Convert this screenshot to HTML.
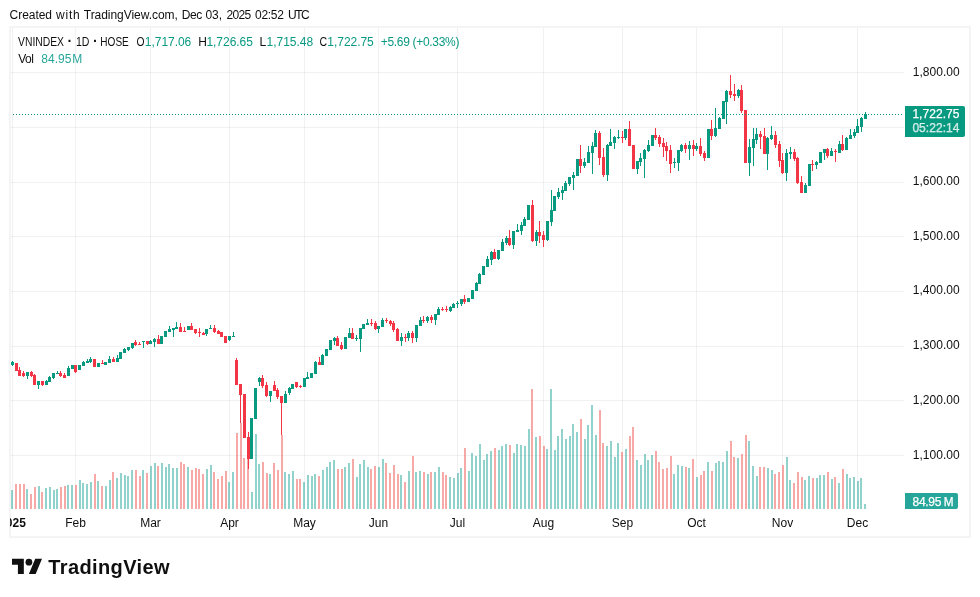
<!DOCTYPE html>
<html lang="en"><head><meta charset="utf-8"><title>VNINDEX 1D HOSE - TradingView</title>
<style>
html,body{margin:0;padding:0;background:#fff;}
body{width:980px;height:597px;overflow:hidden;position:relative;}
svg{position:absolute;left:0;top:0;display:block;}
text{font-family:"Liberation Sans", sans-serif;font-size:12px;fill:#0f0f0f;}
.g{fill:#089981}.r{fill:#f23645}.vg{fill:rgba(38,166,154,0.5)}.vr{fill:rgba(239,83,80,0.5)}
.up{fill:#089981}.vol{fill:#26a69a}.w{fill:#fff;stroke:#fff;stroke-width:0.25px}
</style></head><body>
<svg width="980" height="597" viewBox="0 0 980 597">
<g shape-rendering="crispEdges">
<rect x="10" y="27" width="960" height="510" fill="none" stroke="#f4f4f4" stroke-width="2"/>
<g fill="rgba(0,0,0,0.055)">
<rect x="12" y="28" width="1" height="481"/>
<rect x="75" y="28" width="1" height="481"/>
<rect x="150" y="28" width="1" height="481"/>
<rect x="229" y="28" width="1" height="481"/>
<rect x="304" y="28" width="1" height="481"/>
<rect x="378" y="28" width="1" height="481"/>
<rect x="457" y="28" width="1" height="481"/>
<rect x="543" y="28" width="1" height="481"/>
<rect x="622" y="28" width="1" height="481"/>
<rect x="696" y="28" width="1" height="481"/>
<rect x="782" y="28" width="1" height="481"/>
<rect x="857" y="28" width="1" height="481"/>
<rect x="11" y="72" width="893" height="1"/>
<rect x="11" y="127" width="893" height="1"/>
<rect x="11" y="182" width="893" height="1"/>
<rect x="11" y="236" width="893" height="1"/>
<rect x="11" y="291" width="893" height="1"/>
<rect x="11" y="346" width="893" height="1"/>
<rect x="11" y="400" width="893" height="1"/>
<rect x="11" y="455" width="893" height="1"/>
</g>
<g><rect class="vg" x="11" y="490" width="2" height="19"/><rect class="vr" x="15" y="484" width="2" height="25"/><rect class="vr" x="19" y="484" width="2" height="25"/><rect class="vr" x="23" y="484" width="2" height="25"/><rect class="vg" x="26" y="489" width="2" height="20"/><rect class="vr" x="30" y="494" width="2" height="15"/><rect class="vr" x="34" y="487" width="2" height="22"/><rect class="vg" x="38" y="486" width="2" height="23"/><rect class="vr" x="41" y="492" width="2" height="17"/><rect class="vg" x="45" y="488" width="2" height="21"/><rect class="vg" x="49" y="487" width="2" height="22"/><rect class="vg" x="53" y="490" width="2" height="19"/><rect class="vg" x="56" y="489" width="2" height="20"/><rect class="vr" x="60" y="487" width="2" height="22"/><rect class="vr" x="64" y="486" width="2" height="23"/><rect class="vg" x="67" y="485" width="2" height="24"/><rect class="vg" x="71" y="485" width="2" height="24"/><rect class="vr" x="75" y="485" width="2" height="24"/><rect class="vg" x="79" y="480" width="2" height="29"/><rect class="vg" x="82" y="483" width="2" height="26"/><rect class="vg" x="86" y="484" width="2" height="25"/><rect class="vg" x="90" y="482" width="2" height="27"/><rect class="vr" x="94" y="474" width="2" height="35"/><rect class="vg" x="97" y="481" width="2" height="28"/><rect class="vr" x="101" y="486" width="2" height="23"/><rect class="vg" x="105" y="486" width="2" height="23"/><rect class="vg" x="109" y="480" width="2" height="29"/><rect class="vr" x="112" y="472" width="2" height="37"/><rect class="vg" x="116" y="478" width="2" height="31"/><rect class="vg" x="120" y="473" width="2" height="36"/><rect class="vg" x="124" y="475" width="2" height="34"/><rect class="vg" x="127" y="476" width="2" height="33"/><rect class="vg" x="131" y="470" width="2" height="39"/><rect class="vr" x="135" y="470" width="2" height="39"/><rect class="vr" x="139" y="476" width="2" height="33"/><rect class="vg" x="142" y="470" width="2" height="39"/><rect class="vr" x="146" y="473" width="2" height="36"/><rect class="vg" x="150" y="466" width="2" height="43"/><rect class="vg" x="154" y="463" width="2" height="46"/><rect class="vr" x="157" y="466" width="2" height="43"/><rect class="vg" x="161" y="463" width="2" height="46"/><rect class="vg" x="165" y="467" width="2" height="42"/><rect class="vg" x="168" y="464" width="2" height="45"/><rect class="vg" x="172" y="468" width="2" height="41"/><rect class="vg" x="176" y="468" width="2" height="41"/><rect class="vr" x="180" y="462" width="2" height="47"/><rect class="vr" x="183" y="464" width="2" height="45"/><rect class="vg" x="187" y="467" width="2" height="42"/><rect class="vr" x="191" y="470" width="2" height="39"/><rect class="vr" x="195" y="468" width="2" height="41"/><rect class="vr" x="198" y="469" width="2" height="40"/><rect class="vr" x="202" y="474" width="2" height="35"/><rect class="vg" x="206" y="469" width="2" height="40"/><rect class="vg" x="210" y="465" width="2" height="44"/><rect class="vr" x="213" y="472" width="2" height="37"/><rect class="vr" x="217" y="479" width="2" height="30"/><rect class="vr" x="221" y="476" width="2" height="33"/><rect class="vr" x="225" y="471" width="2" height="38"/><rect class="vg" x="228" y="482" width="2" height="27"/><rect class="vg" x="232" y="472" width="2" height="37"/><rect class="vr" x="236" y="433" width="2" height="76"/><rect class="vr" x="240" y="423" width="2" height="86"/><rect class="vr" x="243" y="458" width="2" height="51"/><rect class="vr" x="247" y="445" width="2" height="64"/><rect class="vg" x="251" y="492" width="2" height="17"/><rect class="vg" x="255" y="434" width="2" height="75"/><rect class="vg" x="258" y="464" width="2" height="45"/><rect class="vr" x="262" y="462" width="2" height="47"/><rect class="vr" x="266" y="473" width="2" height="36"/><rect class="vg" x="269" y="474" width="2" height="35"/><rect class="vr" x="273" y="463" width="2" height="46"/><rect class="vr" x="277" y="470" width="2" height="39"/><rect class="vr" x="281" y="435" width="2" height="74"/><rect class="vg" x="284" y="472" width="2" height="37"/><rect class="vg" x="288" y="474" width="2" height="35"/><rect class="vg" x="292" y="471" width="2" height="38"/><rect class="vr" x="296" y="479" width="2" height="30"/><rect class="vr" x="299" y="479" width="2" height="30"/><rect class="vg" x="303" y="482" width="2" height="27"/><rect class="vg" x="307" y="475" width="2" height="34"/><rect class="vg" x="311" y="476" width="2" height="33"/><rect class="vg" x="314" y="474" width="2" height="35"/><rect class="vr" x="318" y="476" width="2" height="33"/><rect class="vg" x="322" y="470" width="2" height="39"/><rect class="vg" x="326" y="467" width="2" height="42"/><rect class="vg" x="329" y="462" width="2" height="47"/><rect class="vg" x="333" y="460" width="2" height="49"/><rect class="vr" x="337" y="469" width="2" height="40"/><rect class="vr" x="341" y="469" width="2" height="40"/><rect class="vg" x="344" y="467" width="2" height="42"/><rect class="vg" x="348" y="463" width="2" height="46"/><rect class="vr" x="352" y="459" width="2" height="50"/><rect class="vg" x="356" y="477" width="2" height="32"/><rect class="vg" x="359" y="464" width="2" height="45"/><rect class="vg" x="363" y="460" width="2" height="49"/><rect class="vg" x="367" y="467" width="2" height="42"/><rect class="vr" x="370" y="469" width="2" height="40"/><rect class="vr" x="374" y="466" width="2" height="43"/><rect class="vg" x="378" y="467" width="2" height="42"/><rect class="vg" x="382" y="459" width="2" height="50"/><rect class="vr" x="385" y="463" width="2" height="46"/><rect class="vr" x="389" y="473" width="2" height="36"/><rect class="vr" x="393" y="465" width="2" height="44"/><rect class="vr" x="397" y="474" width="2" height="35"/><rect class="vg" x="400" y="475" width="2" height="34"/><rect class="vr" x="404" y="482" width="2" height="27"/><rect class="vg" x="408" y="471" width="2" height="38"/><rect class="vr" x="412" y="456" width="2" height="53"/><rect class="vg" x="415" y="472" width="2" height="37"/><rect class="vg" x="419" y="471" width="2" height="38"/><rect class="vr" x="423" y="472" width="2" height="37"/><rect class="vg" x="427" y="474" width="2" height="35"/><rect class="vr" x="430" y="472" width="2" height="37"/><rect class="vg" x="434" y="472" width="2" height="37"/><rect class="vg" x="438" y="467" width="2" height="42"/><rect class="vr" x="442" y="472" width="2" height="37"/><rect class="vr" x="445" y="475" width="2" height="34"/><rect class="vg" x="449" y="477" width="2" height="32"/><rect class="vg" x="453" y="478" width="2" height="31"/><rect class="vg" x="457" y="473" width="2" height="36"/><rect class="vg" x="460" y="468" width="2" height="41"/><rect class="vr" x="464" y="448" width="2" height="61"/><rect class="vg" x="468" y="471" width="2" height="38"/><rect class="vg" x="471" y="453" width="2" height="56"/><rect class="vg" x="475" y="456" width="2" height="53"/><rect class="vg" x="479" y="444" width="2" height="65"/><rect class="vg" x="483" y="460" width="2" height="49"/><rect class="vg" x="486" y="454" width="2" height="55"/><rect class="vg" x="490" y="451" width="2" height="58"/><rect class="vr" x="494" y="448" width="2" height="61"/><rect class="vg" x="498" y="450" width="2" height="59"/><rect class="vg" x="501" y="446" width="2" height="63"/><rect class="vg" x="505" y="444" width="2" height="65"/><rect class="vr" x="509" y="445" width="2" height="64"/><rect class="vg" x="513" y="453" width="2" height="56"/><rect class="vg" x="516" y="444" width="2" height="65"/><rect class="vg" x="520" y="445" width="2" height="64"/><rect class="vg" x="524" y="446" width="2" height="63"/><rect class="vg" x="528" y="429" width="2" height="80"/><rect class="vr" x="531" y="389" width="2" height="120"/><rect class="vg" x="535" y="437" width="2" height="72"/><rect class="vr" x="539" y="436" width="2" height="73"/><rect class="vr" x="543" y="446" width="2" height="63"/><rect class="vg" x="546" y="449" width="2" height="60"/><rect class="vg" x="550" y="389" width="2" height="120"/><rect class="vg" x="554" y="450" width="2" height="59"/><rect class="vg" x="557" y="436" width="2" height="73"/><rect class="vg" x="561" y="429" width="2" height="80"/><rect class="vg" x="565" y="439" width="2" height="70"/><rect class="vg" x="569" y="436" width="2" height="73"/><rect class="vg" x="572" y="424" width="2" height="85"/><rect class="vg" x="576" y="432" width="2" height="77"/><rect class="vr" x="580" y="419" width="2" height="90"/><rect class="vg" x="584" y="439" width="2" height="70"/><rect class="vg" x="587" y="425" width="2" height="84"/><rect class="vg" x="591" y="405" width="2" height="104"/><rect class="vg" x="595" y="435" width="2" height="74"/><rect class="vr" x="599" y="410" width="2" height="99"/><rect class="vr" x="602" y="443" width="2" height="66"/><rect class="vg" x="606" y="446" width="2" height="63"/><rect class="vg" x="610" y="441" width="2" height="68"/><rect class="vg" x="614" y="457" width="2" height="52"/><rect class="vg" x="617" y="443" width="2" height="66"/><rect class="vr" x="621" y="452" width="2" height="57"/><rect class="vg" x="625" y="449" width="2" height="60"/><rect class="vr" x="629" y="436" width="2" height="73"/><rect class="vr" x="632" y="427" width="2" height="82"/><rect class="vg" x="636" y="460" width="2" height="49"/><rect class="vg" x="640" y="465" width="2" height="44"/><rect class="vg" x="644" y="454" width="2" height="55"/><rect class="vg" x="647" y="460" width="2" height="49"/><rect class="vg" x="651" y="455" width="2" height="54"/><rect class="vr" x="655" y="451" width="2" height="58"/><rect class="vr" x="658" y="462" width="2" height="47"/><rect class="vr" x="662" y="469" width="2" height="40"/><rect class="vr" x="666" y="468" width="2" height="41"/><rect class="vr" x="670" y="456" width="2" height="53"/><rect class="vg" x="673" y="474" width="2" height="35"/><rect class="vg" x="677" y="465" width="2" height="44"/><rect class="vg" x="681" y="466" width="2" height="43"/><rect class="vr" x="685" y="467" width="2" height="42"/><rect class="vg" x="688" y="468" width="2" height="41"/><rect class="vr" x="692" y="459" width="2" height="50"/><rect class="vg" x="696" y="477" width="2" height="32"/><rect class="vr" x="700" y="475" width="2" height="34"/><rect class="vr" x="703" y="471" width="2" height="38"/><rect class="vg" x="707" y="462" width="2" height="47"/><rect class="vr" x="711" y="471" width="2" height="38"/><rect class="vg" x="715" y="463" width="2" height="46"/><rect class="vg" x="718" y="461" width="2" height="48"/><rect class="vg" x="722" y="462" width="2" height="47"/><rect class="vg" x="726" y="451" width="2" height="58"/><rect class="vr" x="730" y="441" width="2" height="68"/><rect class="vr" x="733" y="457" width="2" height="52"/><rect class="vg" x="737" y="458" width="2" height="51"/><rect class="vr" x="741" y="454" width="2" height="55"/><rect class="vr" x="745" y="435" width="2" height="74"/><rect class="vg" x="748" y="441" width="2" height="68"/><rect class="vg" x="752" y="466" width="2" height="43"/><rect class="vg" x="756" y="476" width="2" height="33"/><rect class="vr" x="759" y="467" width="2" height="42"/><rect class="vr" x="763" y="467" width="2" height="42"/><rect class="vg" x="767" y="468" width="2" height="41"/><rect class="vg" x="771" y="470" width="2" height="39"/><rect class="vr" x="774" y="474" width="2" height="35"/><rect class="vr" x="778" y="472" width="2" height="37"/><rect class="vr" x="782" y="465" width="2" height="44"/><rect class="vg" x="786" y="457" width="2" height="52"/><rect class="vg" x="789" y="480" width="2" height="29"/><rect class="vr" x="793" y="483" width="2" height="26"/><rect class="vr" x="797" y="472" width="2" height="37"/><rect class="vr" x="801" y="477" width="2" height="32"/><rect class="vg" x="804" y="480" width="2" height="29"/><rect class="vg" x="808" y="476" width="2" height="33"/><rect class="vr" x="812" y="478" width="2" height="31"/><rect class="vg" x="816" y="478" width="2" height="31"/><rect class="vg" x="819" y="475" width="2" height="34"/><rect class="vg" x="823" y="475" width="2" height="34"/><rect class="vr" x="827" y="472" width="2" height="37"/><rect class="vg" x="831" y="479" width="2" height="30"/><rect class="vr" x="834" y="477" width="2" height="32"/><rect class="vg" x="838" y="483" width="2" height="26"/><rect class="vr" x="842" y="469" width="2" height="40"/><rect class="vg" x="846" y="474" width="2" height="35"/><rect class="vg" x="849" y="478" width="2" height="31"/><rect class="vg" x="853" y="477" width="2" height="32"/><rect class="vg" x="857" y="481" width="2" height="28"/><rect class="vg" x="860" y="478" width="2" height="31"/><rect class="vg" x="864" y="504" width="2" height="5"/></g>
<g><rect class="g" x="12" y="361" width="1" height="5"/><rect class="g" x="11" y="362" width="3" height="3"/><rect class="r" x="15" y="363" width="3" height="8"/><rect class="r" x="19" y="367" width="1" height="9"/><rect class="r" x="18" y="370" width="3" height="6"/><rect class="r" x="23" y="371" width="1" height="6"/><rect class="r" x="22" y="373" width="3" height="3"/><rect class="g" x="27" y="372" width="1" height="7"/><rect class="g" x="26" y="372" width="3" height="4"/><rect class="r" x="31" y="371" width="1" height="6"/><rect class="r" x="30" y="372" width="3" height="4"/><rect class="r" x="34" y="374" width="1" height="11"/><rect class="r" x="33" y="375" width="3" height="10"/><rect class="g" x="38" y="381" width="1" height="8"/><rect class="g" x="37" y="381" width="3" height="4"/><rect class="r" x="42" y="381" width="1" height="5"/><rect class="r" x="41" y="381" width="3" height="4"/><rect class="g" x="46" y="380" width="1" height="5"/><rect class="g" x="45" y="381" width="3" height="4"/><rect class="g" x="49" y="376" width="1" height="6"/><rect class="g" x="48" y="377" width="3" height="5"/><rect class="g" x="53" y="373" width="1" height="6"/><rect class="g" x="52" y="373" width="3" height="5"/><rect class="g" x="57" y="371" width="1" height="3"/><rect class="g" x="56" y="373" width="3" height="1"/><rect class="r" x="60" y="371" width="1" height="6"/><rect class="r" x="59" y="373" width="3" height="3"/><rect class="r" x="64" y="373" width="1" height="5"/><rect class="r" x="63" y="375" width="3" height="3"/><rect class="g" x="68" y="366" width="1" height="10"/><rect class="g" x="67" y="368" width="3" height="8"/><rect class="g" x="71" y="365" width="3" height="4"/><rect class="r" x="75" y="365" width="1" height="8"/><rect class="r" x="74" y="365" width="3" height="7"/><rect class="g" x="78" y="365" width="3" height="5"/><rect class="g" x="83" y="361" width="1" height="5"/><rect class="g" x="82" y="362" width="3" height="4"/><rect class="g" x="87" y="359" width="1" height="4"/><rect class="g" x="86" y="361" width="3" height="2"/><rect class="g" x="90" y="357" width="1" height="6"/><rect class="g" x="89" y="359" width="3" height="3"/><rect class="r" x="93" y="359" width="3" height="8"/><rect class="g" x="97" y="363" width="3" height="4"/><rect class="r" x="102" y="360" width="1" height="4"/><rect class="r" x="101" y="363" width="3" height="1"/><rect class="g" x="104" y="362" width="3" height="3"/><rect class="g" x="109" y="356" width="1" height="7"/><rect class="g" x="108" y="359" width="3" height="4"/><rect class="r" x="113" y="357" width="1" height="5"/><rect class="r" x="112" y="359" width="3" height="3"/><rect class="g" x="117" y="355" width="1" height="7"/><rect class="g" x="116" y="358" width="3" height="4"/><rect class="g" x="119" y="352" width="3" height="7"/><rect class="g" x="124" y="348" width="1" height="5"/><rect class="g" x="123" y="349" width="3" height="4"/><rect class="g" x="128" y="347" width="1" height="4"/><rect class="g" x="127" y="347" width="3" height="3"/><rect class="g" x="132" y="343" width="1" height="6"/><rect class="g" x="131" y="343" width="3" height="5"/><rect class="r" x="135" y="340" width="1" height="6"/><rect class="r" x="134" y="342" width="3" height="3"/><rect class="r" x="139" y="342" width="1" height="3"/><rect class="r" x="138" y="344" width="3" height="1"/><rect class="g" x="143" y="341" width="1" height="7"/><rect class="g" x="142" y="341" width="3" height="1"/><rect class="r" x="147" y="341" width="1" height="4"/><rect class="r" x="146" y="341" width="3" height="3"/><rect class="g" x="150" y="340" width="1" height="4"/><rect class="g" x="149" y="341" width="3" height="3"/><rect class="g" x="154" y="338" width="1" height="9"/><rect class="g" x="153" y="339" width="3" height="3"/><rect class="r" x="158" y="335" width="1" height="9"/><rect class="r" x="157" y="339" width="3" height="5"/><rect class="g" x="160" y="336" width="3" height="8"/><rect class="g" x="164" y="331" width="3" height="6"/><rect class="g" x="169" y="326" width="1" height="6"/><rect class="g" x="168" y="329" width="3" height="3"/><rect class="g" x="173" y="328" width="1" height="9"/><rect class="g" x="172" y="328" width="3" height="2"/><rect class="g" x="176" y="322" width="1" height="7"/><rect class="g" x="175" y="327" width="3" height="2"/><rect class="r" x="180" y="323" width="1" height="9"/><rect class="r" x="179" y="327" width="3" height="5"/><rect class="r" x="184" y="327" width="1" height="5"/><rect class="r" x="183" y="331" width="3" height="1"/><rect class="g" x="187" y="326" width="3" height="4"/><rect class="r" x="191" y="323" width="1" height="7"/><rect class="r" x="190" y="326" width="3" height="4"/><rect class="r" x="195" y="329" width="1" height="5"/><rect class="r" x="194" y="329" width="3" height="4"/><rect class="r" x="199" y="328" width="1" height="9"/><rect class="r" x="198" y="332" width="3" height="1"/><rect class="r" x="203" y="332" width="1" height="3"/><rect class="r" x="202" y="333" width="3" height="2"/><rect class="g" x="206" y="329" width="1" height="7"/><rect class="g" x="205" y="329" width="3" height="5"/><rect class="g" x="210" y="325" width="1" height="4"/><rect class="g" x="209" y="328" width="3" height="1"/><rect class="r" x="214" y="325" width="1" height="8"/><rect class="r" x="213" y="328" width="3" height="4"/><rect class="r" x="218" y="330" width="1" height="4"/><rect class="r" x="217" y="331" width="3" height="3"/><rect class="r" x="220" y="332" width="3" height="5"/><rect class="r" x="224" y="336" width="3" height="7"/><rect class="g" x="229" y="336" width="1" height="5"/><rect class="g" x="228" y="336" width="3" height="4"/><rect class="g" x="233" y="332" width="1" height="5"/><rect class="g" x="232" y="336" width="3" height="1"/><rect class="r" x="236" y="358" width="1" height="27"/><rect class="r" x="235" y="360" width="3" height="25"/><rect class="r" x="240" y="384" width="1" height="39"/><rect class="r" x="239" y="384" width="3" height="11"/><rect class="r" x="243" y="394" width="3" height="44"/><rect class="r" x="248" y="432" width="1" height="37"/><rect class="r" x="247" y="437" width="3" height="22"/><rect class="g" x="250" y="418" width="3" height="41"/><rect class="g" x="254" y="388" width="3" height="31"/><rect class="g" x="259" y="377" width="1" height="9"/><rect class="g" x="258" y="378" width="3" height="4"/><rect class="r" x="262" y="375" width="1" height="13"/><rect class="r" x="261" y="378" width="3" height="8"/><rect class="r" x="266" y="382" width="1" height="15"/><rect class="r" x="265" y="385" width="3" height="11"/><rect class="g" x="270" y="391" width="1" height="11"/><rect class="g" x="269" y="391" width="3" height="5"/><rect class="r" x="274" y="381" width="1" height="10"/><rect class="r" x="273" y="385" width="3" height="6"/><rect class="r" x="277" y="388" width="1" height="11"/><rect class="r" x="276" y="390" width="3" height="7"/><rect class="r" x="281" y="396" width="1" height="39"/><rect class="r" x="280" y="396" width="3" height="7"/><rect class="g" x="285" y="391" width="1" height="12"/><rect class="g" x="284" y="394" width="3" height="9"/><rect class="g" x="289" y="387" width="1" height="8"/><rect class="g" x="288" y="388" width="3" height="5"/><rect class="g" x="291" y="384" width="3" height="5"/><rect class="r" x="296" y="382" width="1" height="6"/><rect class="r" x="295" y="382" width="3" height="5"/><rect class="r" x="300" y="385" width="1" height="3"/><rect class="r" x="299" y="386" width="3" height="1"/><rect class="g" x="303" y="378" width="3" height="9"/><rect class="g" x="307" y="372" width="1" height="7"/><rect class="g" x="306" y="377" width="3" height="2"/><rect class="g" x="310" y="373" width="3" height="5"/><rect class="g" x="315" y="361" width="1" height="13"/><rect class="g" x="314" y="362" width="3" height="12"/><rect class="r" x="319" y="357" width="1" height="8"/><rect class="r" x="318" y="362" width="3" height="3"/><rect class="g" x="322" y="354" width="1" height="11"/><rect class="g" x="321" y="355" width="3" height="10"/><rect class="g" x="325" y="349" width="3" height="7"/><rect class="g" x="329" y="340" width="3" height="10"/><rect class="g" x="334" y="337" width="1" height="8"/><rect class="g" x="333" y="338" width="3" height="3"/><rect class="r" x="337" y="336" width="1" height="10"/><rect class="r" x="336" y="338" width="3" height="8"/><rect class="r" x="341" y="342" width="1" height="8"/><rect class="r" x="340" y="345" width="3" height="4"/><rect class="g" x="344" y="337" width="3" height="12"/><rect class="g" x="349" y="328" width="1" height="10"/><rect class="g" x="348" y="333" width="3" height="5"/><rect class="r" x="352" y="328" width="1" height="11"/><rect class="r" x="351" y="333" width="3" height="6"/><rect class="g" x="356" y="335" width="1" height="6"/><rect class="g" x="355" y="338" width="3" height="1"/><rect class="g" x="360" y="328" width="1" height="24"/><rect class="g" x="359" y="328" width="3" height="11"/><rect class="g" x="362" y="324" width="3" height="5"/><rect class="g" x="367" y="319" width="1" height="6"/><rect class="g" x="366" y="323" width="3" height="2"/><rect class="r" x="371" y="319" width="1" height="7"/><rect class="r" x="370" y="323" width="3" height="1"/><rect class="r" x="375" y="321" width="1" height="9"/><rect class="r" x="374" y="323" width="3" height="6"/><rect class="g" x="378" y="326" width="1" height="7"/><rect class="g" x="377" y="326" width="3" height="3"/><rect class="g" x="382" y="318" width="1" height="9"/><rect class="g" x="381" y="320" width="3" height="7"/><rect class="r" x="386" y="318" width="1" height="5"/><rect class="r" x="385" y="320" width="3" height="1"/><rect class="r" x="390" y="320" width="1" height="6"/><rect class="r" x="389" y="321" width="3" height="3"/><rect class="r" x="393" y="321" width="1" height="11"/><rect class="r" x="392" y="323" width="3" height="7"/><rect class="r" x="397" y="328" width="1" height="13"/><rect class="r" x="396" y="329" width="3" height="12"/><rect class="g" x="401" y="333" width="1" height="13"/><rect class="g" x="400" y="337" width="3" height="4"/><rect class="r" x="405" y="334" width="1" height="8"/><rect class="r" x="404" y="337" width="3" height="1"/><rect class="g" x="408" y="331" width="1" height="10"/><rect class="g" x="407" y="333" width="3" height="5"/><rect class="r" x="412" y="331" width="1" height="12"/><rect class="r" x="411" y="333" width="3" height="5"/><rect class="g" x="416" y="325" width="1" height="17"/><rect class="g" x="415" y="325" width="3" height="13"/><rect class="g" x="420" y="317" width="1" height="9"/><rect class="g" x="419" y="320" width="3" height="6"/><rect class="r" x="423" y="316" width="1" height="7"/><rect class="r" x="422" y="320" width="3" height="1"/><rect class="g" x="427" y="316" width="1" height="7"/><rect class="g" x="426" y="317" width="3" height="4"/><rect class="r" x="431" y="315" width="1" height="8"/><rect class="r" x="430" y="317" width="3" height="3"/><rect class="g" x="435" y="314" width="1" height="11"/><rect class="g" x="434" y="314" width="3" height="6"/><rect class="g" x="438" y="307" width="1" height="8"/><rect class="g" x="437" y="309" width="3" height="6"/><rect class="r" x="442" y="307" width="1" height="4"/><rect class="r" x="441" y="309" width="3" height="1"/><rect class="r" x="446" y="306" width="1" height="6"/><rect class="r" x="445" y="309" width="3" height="1"/><rect class="g" x="450" y="306" width="1" height="6"/><rect class="g" x="449" y="307" width="3" height="4"/><rect class="g" x="453" y="303" width="1" height="5"/><rect class="g" x="452" y="304" width="3" height="4"/><rect class="g" x="457" y="301" width="1" height="7"/><rect class="g" x="456" y="303" width="3" height="1"/><rect class="g" x="461" y="299" width="1" height="7"/><rect class="g" x="460" y="299" width="3" height="5"/><rect class="r" x="464" y="295" width="1" height="9"/><rect class="r" x="463" y="299" width="3" height="3"/><rect class="g" x="467" y="298" width="3" height="4"/><rect class="g" x="471" y="290" width="3" height="9"/><rect class="g" x="476" y="282" width="1" height="9"/><rect class="g" x="475" y="283" width="3" height="8"/><rect class="g" x="479" y="273" width="1" height="11"/><rect class="g" x="478" y="274" width="3" height="10"/><rect class="g" x="482" y="266" width="3" height="9"/><rect class="g" x="487" y="256" width="1" height="11"/><rect class="g" x="486" y="259" width="3" height="8"/><rect class="g" x="491" y="251" width="1" height="14"/><rect class="g" x="490" y="252" width="3" height="8"/><rect class="r" x="494" y="249" width="1" height="10"/><rect class="r" x="493" y="252" width="3" height="7"/><rect class="g" x="498" y="250" width="1" height="10"/><rect class="g" x="497" y="250" width="3" height="9"/><rect class="g" x="502" y="239" width="1" height="12"/><rect class="g" x="501" y="242" width="3" height="9"/><rect class="g" x="506" y="236" width="1" height="9"/><rect class="g" x="505" y="238" width="3" height="5"/><rect class="r" x="509" y="230" width="1" height="16"/><rect class="r" x="508" y="238" width="3" height="7"/><rect class="g" x="513" y="231" width="1" height="18"/><rect class="g" x="512" y="231" width="3" height="14"/><rect class="g" x="517" y="224" width="1" height="8"/><rect class="g" x="516" y="230" width="3" height="2"/><rect class="g" x="521" y="222" width="1" height="13"/><rect class="g" x="520" y="225" width="3" height="6"/><rect class="g" x="524" y="217" width="1" height="9"/><rect class="g" x="523" y="219" width="3" height="7"/><rect class="g" x="527" y="205" width="3" height="15"/><rect class="r" x="532" y="200" width="1" height="42"/><rect class="r" x="531" y="205" width="3" height="36"/><rect class="g" x="536" y="230" width="1" height="16"/><rect class="g" x="535" y="232" width="3" height="9"/><rect class="r" x="539" y="221" width="1" height="22"/><rect class="r" x="538" y="232" width="3" height="4"/><rect class="r" x="543" y="231" width="1" height="16"/><rect class="r" x="542" y="235" width="3" height="5"/><rect class="g" x="547" y="221" width="1" height="20"/><rect class="g" x="546" y="221" width="3" height="19"/><rect class="g" x="551" y="190" width="1" height="36"/><rect class="g" x="550" y="210" width="3" height="12"/><rect class="g" x="553" y="196" width="3" height="15"/><rect class="g" x="558" y="188" width="1" height="11"/><rect class="g" x="557" y="192" width="3" height="5"/><rect class="g" x="562" y="186" width="1" height="14"/><rect class="g" x="561" y="190" width="3" height="3"/><rect class="g" x="565" y="181" width="1" height="10"/><rect class="g" x="564" y="183" width="3" height="8"/><rect class="g" x="569" y="177" width="1" height="9"/><rect class="g" x="568" y="177" width="3" height="7"/><rect class="g" x="573" y="172" width="1" height="18"/><rect class="g" x="572" y="175" width="3" height="3"/><rect class="g" x="576" y="159" width="3" height="17"/><rect class="r" x="580" y="145" width="1" height="28"/><rect class="r" x="579" y="159" width="3" height="7"/><rect class="g" x="584" y="158" width="1" height="10"/><rect class="g" x="583" y="162" width="3" height="4"/><rect class="g" x="588" y="146" width="1" height="17"/><rect class="g" x="587" y="152" width="3" height="11"/><rect class="g" x="592" y="142" width="1" height="32"/><rect class="g" x="591" y="146" width="3" height="7"/><rect class="g" x="595" y="130" width="1" height="17"/><rect class="g" x="594" y="133" width="3" height="14"/><rect class="r" x="599" y="131" width="1" height="34"/><rect class="r" x="598" y="133" width="3" height="25"/><rect class="r" x="603" y="148" width="1" height="29"/><rect class="r" x="602" y="157" width="3" height="18"/><rect class="g" x="607" y="144" width="1" height="37"/><rect class="g" x="606" y="145" width="3" height="30"/><rect class="g" x="610" y="129" width="1" height="17"/><rect class="g" x="609" y="142" width="3" height="4"/><rect class="g" x="614" y="136" width="1" height="13"/><rect class="g" x="613" y="137" width="3" height="6"/><rect class="g" x="618" y="130" width="1" height="9"/><rect class="g" x="617" y="137" width="3" height="1"/><rect class="r" x="622" y="131" width="1" height="12"/><rect class="r" x="621" y="137" width="3" height="1"/><rect class="g" x="625" y="129" width="1" height="11"/><rect class="g" x="624" y="129" width="3" height="9"/><rect class="r" x="629" y="121" width="1" height="25"/><rect class="r" x="628" y="129" width="3" height="17"/><rect class="r" x="632" y="145" width="3" height="24"/><rect class="g" x="637" y="161" width="1" height="13"/><rect class="g" x="636" y="161" width="3" height="8"/><rect class="g" x="640" y="153" width="1" height="13"/><rect class="g" x="639" y="158" width="3" height="4"/><rect class="g" x="644" y="149" width="1" height="29"/><rect class="g" x="643" y="150" width="3" height="9"/><rect class="g" x="648" y="140" width="1" height="12"/><rect class="g" x="647" y="145" width="3" height="6"/><rect class="g" x="651" y="135" width="3" height="11"/><rect class="r" x="655" y="128" width="1" height="12"/><rect class="r" x="654" y="135" width="3" height="3"/><rect class="r" x="659" y="135" width="1" height="12"/><rect class="r" x="658" y="137" width="3" height="7"/><rect class="r" x="663" y="138" width="1" height="19"/><rect class="r" x="662" y="143" width="3" height="4"/><rect class="r" x="666" y="142" width="1" height="19"/><rect class="r" x="665" y="146" width="3" height="5"/><rect class="r" x="670" y="145" width="1" height="28"/><rect class="r" x="669" y="150" width="3" height="14"/><rect class="g" x="674" y="158" width="1" height="10"/><rect class="g" x="673" y="162" width="3" height="1"/><rect class="g" x="678" y="150" width="1" height="21"/><rect class="g" x="677" y="150" width="3" height="13"/><rect class="g" x="681" y="144" width="1" height="8"/><rect class="g" x="680" y="145" width="3" height="6"/><rect class="r" x="685" y="143" width="1" height="10"/><rect class="r" x="684" y="145" width="3" height="4"/><rect class="g" x="689" y="141" width="1" height="19"/><rect class="g" x="688" y="145" width="3" height="4"/><rect class="r" x="693" y="140" width="1" height="16"/><rect class="r" x="692" y="145" width="3" height="4"/><rect class="g" x="696" y="143" width="1" height="8"/><rect class="g" x="695" y="146" width="3" height="3"/><rect class="r" x="700" y="138" width="1" height="18"/><rect class="r" x="699" y="146" width="3" height="8"/><rect class="r" x="704" y="151" width="1" height="10"/><rect class="r" x="703" y="153" width="3" height="5"/><rect class="g" x="707" y="129" width="3" height="29"/><rect class="r" x="711" y="120" width="1" height="20"/><rect class="r" x="710" y="129" width="3" height="7"/><rect class="g" x="715" y="108" width="1" height="29"/><rect class="g" x="714" y="128" width="3" height="8"/><rect class="g" x="719" y="117" width="1" height="12"/><rect class="g" x="718" y="118" width="3" height="11"/><rect class="g" x="722" y="101" width="3" height="18"/><rect class="g" x="726" y="90" width="1" height="34"/><rect class="g" x="725" y="91" width="3" height="11"/><rect class="r" x="730" y="75" width="1" height="23"/><rect class="r" x="729" y="91" width="3" height="4"/><rect class="r" x="734" y="84" width="1" height="17"/><rect class="r" x="733" y="94" width="3" height="2"/><rect class="g" x="738" y="89" width="1" height="9"/><rect class="g" x="737" y="90" width="3" height="6"/><rect class="r" x="741" y="85" width="1" height="28"/><rect class="r" x="740" y="90" width="3" height="21"/><rect class="r" x="744" y="110" width="3" height="53"/><rect class="g" x="749" y="139" width="1" height="37"/><rect class="g" x="748" y="147" width="3" height="16"/><rect class="g" x="753" y="128" width="1" height="38"/><rect class="g" x="752" y="139" width="3" height="9"/><rect class="g" x="756" y="128" width="1" height="16"/><rect class="g" x="755" y="134" width="3" height="6"/><rect class="r" x="760" y="131" width="1" height="18"/><rect class="r" x="759" y="134" width="3" height="3"/><rect class="r" x="764" y="128" width="1" height="26"/><rect class="r" x="763" y="136" width="3" height="18"/><rect class="g" x="767" y="137" width="1" height="33"/><rect class="g" x="766" y="138" width="3" height="16"/><rect class="g" x="771" y="126" width="1" height="14"/><rect class="g" x="770" y="135" width="3" height="4"/><rect class="r" x="775" y="131" width="1" height="17"/><rect class="r" x="774" y="135" width="3" height="10"/><rect class="r" x="779" y="141" width="1" height="26"/><rect class="r" x="778" y="144" width="3" height="17"/><rect class="r" x="782" y="153" width="1" height="21"/><rect class="r" x="781" y="160" width="3" height="13"/><rect class="g" x="786" y="149" width="1" height="32"/><rect class="g" x="785" y="153" width="3" height="20"/><rect class="g" x="790" y="147" width="1" height="12"/><rect class="g" x="789" y="152" width="3" height="2"/><rect class="r" x="794" y="149" width="1" height="12"/><rect class="r" x="793" y="152" width="3" height="7"/><rect class="r" x="797" y="157" width="1" height="27"/><rect class="r" x="796" y="158" width="3" height="25"/><rect class="r" x="801" y="176" width="1" height="17"/><rect class="r" x="800" y="182" width="3" height="11"/><rect class="g" x="805" y="183" width="1" height="10"/><rect class="g" x="804" y="185" width="3" height="8"/><rect class="g" x="808" y="164" width="3" height="22"/><rect class="r" x="812" y="160" width="1" height="11"/><rect class="r" x="811" y="164" width="3" height="1"/><rect class="g" x="816" y="161" width="1" height="8"/><rect class="g" x="815" y="162" width="3" height="3"/><rect class="g" x="819" y="152" width="3" height="11"/><rect class="g" x="824" y="149" width="1" height="11"/><rect class="g" x="823" y="149" width="3" height="4"/><rect class="r" x="827" y="148" width="1" height="10"/><rect class="r" x="826" y="149" width="3" height="7"/><rect class="g" x="831" y="148" width="1" height="8"/><rect class="g" x="830" y="151" width="3" height="5"/><rect class="r" x="835" y="149" width="1" height="13"/><rect class="r" x="834" y="151" width="3" height="1"/><rect class="g" x="839" y="141" width="1" height="12"/><rect class="g" x="838" y="144" width="3" height="9"/><rect class="r" x="842" y="135" width="1" height="16"/><rect class="r" x="841" y="144" width="3" height="6"/><rect class="g" x="846" y="137" width="1" height="13"/><rect class="g" x="845" y="138" width="3" height="12"/><rect class="g" x="850" y="129" width="1" height="10"/><rect class="g" x="849" y="135" width="3" height="4"/><rect class="g" x="854" y="129" width="1" height="9"/><rect class="g" x="853" y="132" width="3" height="4"/><rect class="g" x="857" y="119" width="1" height="14"/><rect class="g" x="856" y="126" width="3" height="7"/><rect class="g" x="861" y="117" width="1" height="15"/><rect class="g" x="860" y="118" width="3" height="9"/><rect class="g" x="865" y="112" width="1" height="7"/><rect class="g" x="864" y="114" width="3" height="5"/></g>
<g class="up"><rect x="13" y="114" width="1" height="1"/><rect x="16" y="114" width="1" height="1"/><rect x="19" y="114" width="1" height="1"/><rect x="22" y="114" width="1" height="1"/><rect x="25" y="114" width="1" height="1"/><rect x="28" y="114" width="1" height="1"/><rect x="31" y="114" width="1" height="1"/><rect x="34" y="114" width="1" height="1"/><rect x="37" y="114" width="1" height="1"/><rect x="40" y="114" width="1" height="1"/><rect x="43" y="114" width="1" height="1"/><rect x="46" y="114" width="1" height="1"/><rect x="49" y="114" width="1" height="1"/><rect x="52" y="114" width="1" height="1"/><rect x="55" y="114" width="1" height="1"/><rect x="58" y="114" width="1" height="1"/><rect x="61" y="114" width="1" height="1"/><rect x="64" y="114" width="1" height="1"/><rect x="67" y="114" width="1" height="1"/><rect x="70" y="114" width="1" height="1"/><rect x="73" y="114" width="1" height="1"/><rect x="76" y="114" width="1" height="1"/><rect x="79" y="114" width="1" height="1"/><rect x="82" y="114" width="1" height="1"/><rect x="85" y="114" width="1" height="1"/><rect x="88" y="114" width="1" height="1"/><rect x="91" y="114" width="1" height="1"/><rect x="94" y="114" width="1" height="1"/><rect x="97" y="114" width="1" height="1"/><rect x="100" y="114" width="1" height="1"/><rect x="103" y="114" width="1" height="1"/><rect x="106" y="114" width="1" height="1"/><rect x="109" y="114" width="1" height="1"/><rect x="112" y="114" width="1" height="1"/><rect x="115" y="114" width="1" height="1"/><rect x="118" y="114" width="1" height="1"/><rect x="121" y="114" width="1" height="1"/><rect x="124" y="114" width="1" height="1"/><rect x="127" y="114" width="1" height="1"/><rect x="130" y="114" width="1" height="1"/><rect x="133" y="114" width="1" height="1"/><rect x="136" y="114" width="1" height="1"/><rect x="139" y="114" width="1" height="1"/><rect x="142" y="114" width="1" height="1"/><rect x="145" y="114" width="1" height="1"/><rect x="148" y="114" width="1" height="1"/><rect x="151" y="114" width="1" height="1"/><rect x="154" y="114" width="1" height="1"/><rect x="157" y="114" width="1" height="1"/><rect x="160" y="114" width="1" height="1"/><rect x="163" y="114" width="1" height="1"/><rect x="166" y="114" width="1" height="1"/><rect x="169" y="114" width="1" height="1"/><rect x="172" y="114" width="1" height="1"/><rect x="175" y="114" width="1" height="1"/><rect x="178" y="114" width="1" height="1"/><rect x="181" y="114" width="1" height="1"/><rect x="184" y="114" width="1" height="1"/><rect x="187" y="114" width="1" height="1"/><rect x="190" y="114" width="1" height="1"/><rect x="193" y="114" width="1" height="1"/><rect x="196" y="114" width="1" height="1"/><rect x="199" y="114" width="1" height="1"/><rect x="202" y="114" width="1" height="1"/><rect x="205" y="114" width="1" height="1"/><rect x="208" y="114" width="1" height="1"/><rect x="211" y="114" width="1" height="1"/><rect x="214" y="114" width="1" height="1"/><rect x="217" y="114" width="1" height="1"/><rect x="220" y="114" width="1" height="1"/><rect x="223" y="114" width="1" height="1"/><rect x="226" y="114" width="1" height="1"/><rect x="229" y="114" width="1" height="1"/><rect x="232" y="114" width="1" height="1"/><rect x="235" y="114" width="1" height="1"/><rect x="238" y="114" width="1" height="1"/><rect x="241" y="114" width="1" height="1"/><rect x="244" y="114" width="1" height="1"/><rect x="247" y="114" width="1" height="1"/><rect x="250" y="114" width="1" height="1"/><rect x="253" y="114" width="1" height="1"/><rect x="256" y="114" width="1" height="1"/><rect x="259" y="114" width="1" height="1"/><rect x="262" y="114" width="1" height="1"/><rect x="265" y="114" width="1" height="1"/><rect x="268" y="114" width="1" height="1"/><rect x="271" y="114" width="1" height="1"/><rect x="274" y="114" width="1" height="1"/><rect x="277" y="114" width="1" height="1"/><rect x="280" y="114" width="1" height="1"/><rect x="283" y="114" width="1" height="1"/><rect x="286" y="114" width="1" height="1"/><rect x="289" y="114" width="1" height="1"/><rect x="292" y="114" width="1" height="1"/><rect x="295" y="114" width="1" height="1"/><rect x="298" y="114" width="1" height="1"/><rect x="301" y="114" width="1" height="1"/><rect x="304" y="114" width="1" height="1"/><rect x="307" y="114" width="1" height="1"/><rect x="310" y="114" width="1" height="1"/><rect x="313" y="114" width="1" height="1"/><rect x="316" y="114" width="1" height="1"/><rect x="319" y="114" width="1" height="1"/><rect x="322" y="114" width="1" height="1"/><rect x="325" y="114" width="1" height="1"/><rect x="328" y="114" width="1" height="1"/><rect x="331" y="114" width="1" height="1"/><rect x="334" y="114" width="1" height="1"/><rect x="337" y="114" width="1" height="1"/><rect x="340" y="114" width="1" height="1"/><rect x="343" y="114" width="1" height="1"/><rect x="346" y="114" width="1" height="1"/><rect x="349" y="114" width="1" height="1"/><rect x="352" y="114" width="1" height="1"/><rect x="355" y="114" width="1" height="1"/><rect x="358" y="114" width="1" height="1"/><rect x="361" y="114" width="1" height="1"/><rect x="364" y="114" width="1" height="1"/><rect x="367" y="114" width="1" height="1"/><rect x="370" y="114" width="1" height="1"/><rect x="373" y="114" width="1" height="1"/><rect x="376" y="114" width="1" height="1"/><rect x="379" y="114" width="1" height="1"/><rect x="382" y="114" width="1" height="1"/><rect x="385" y="114" width="1" height="1"/><rect x="388" y="114" width="1" height="1"/><rect x="391" y="114" width="1" height="1"/><rect x="394" y="114" width="1" height="1"/><rect x="397" y="114" width="1" height="1"/><rect x="400" y="114" width="1" height="1"/><rect x="403" y="114" width="1" height="1"/><rect x="406" y="114" width="1" height="1"/><rect x="409" y="114" width="1" height="1"/><rect x="412" y="114" width="1" height="1"/><rect x="415" y="114" width="1" height="1"/><rect x="418" y="114" width="1" height="1"/><rect x="421" y="114" width="1" height="1"/><rect x="424" y="114" width="1" height="1"/><rect x="427" y="114" width="1" height="1"/><rect x="430" y="114" width="1" height="1"/><rect x="433" y="114" width="1" height="1"/><rect x="436" y="114" width="1" height="1"/><rect x="439" y="114" width="1" height="1"/><rect x="442" y="114" width="1" height="1"/><rect x="445" y="114" width="1" height="1"/><rect x="448" y="114" width="1" height="1"/><rect x="451" y="114" width="1" height="1"/><rect x="454" y="114" width="1" height="1"/><rect x="457" y="114" width="1" height="1"/><rect x="460" y="114" width="1" height="1"/><rect x="463" y="114" width="1" height="1"/><rect x="466" y="114" width="1" height="1"/><rect x="469" y="114" width="1" height="1"/><rect x="472" y="114" width="1" height="1"/><rect x="475" y="114" width="1" height="1"/><rect x="478" y="114" width="1" height="1"/><rect x="481" y="114" width="1" height="1"/><rect x="484" y="114" width="1" height="1"/><rect x="487" y="114" width="1" height="1"/><rect x="490" y="114" width="1" height="1"/><rect x="493" y="114" width="1" height="1"/><rect x="496" y="114" width="1" height="1"/><rect x="499" y="114" width="1" height="1"/><rect x="502" y="114" width="1" height="1"/><rect x="505" y="114" width="1" height="1"/><rect x="508" y="114" width="1" height="1"/><rect x="511" y="114" width="1" height="1"/><rect x="514" y="114" width="1" height="1"/><rect x="517" y="114" width="1" height="1"/><rect x="520" y="114" width="1" height="1"/><rect x="523" y="114" width="1" height="1"/><rect x="526" y="114" width="1" height="1"/><rect x="529" y="114" width="1" height="1"/><rect x="532" y="114" width="1" height="1"/><rect x="535" y="114" width="1" height="1"/><rect x="538" y="114" width="1" height="1"/><rect x="541" y="114" width="1" height="1"/><rect x="544" y="114" width="1" height="1"/><rect x="547" y="114" width="1" height="1"/><rect x="550" y="114" width="1" height="1"/><rect x="553" y="114" width="1" height="1"/><rect x="556" y="114" width="1" height="1"/><rect x="559" y="114" width="1" height="1"/><rect x="562" y="114" width="1" height="1"/><rect x="565" y="114" width="1" height="1"/><rect x="568" y="114" width="1" height="1"/><rect x="571" y="114" width="1" height="1"/><rect x="574" y="114" width="1" height="1"/><rect x="577" y="114" width="1" height="1"/><rect x="580" y="114" width="1" height="1"/><rect x="583" y="114" width="1" height="1"/><rect x="586" y="114" width="1" height="1"/><rect x="589" y="114" width="1" height="1"/><rect x="592" y="114" width="1" height="1"/><rect x="595" y="114" width="1" height="1"/><rect x="598" y="114" width="1" height="1"/><rect x="601" y="114" width="1" height="1"/><rect x="604" y="114" width="1" height="1"/><rect x="607" y="114" width="1" height="1"/><rect x="610" y="114" width="1" height="1"/><rect x="613" y="114" width="1" height="1"/><rect x="616" y="114" width="1" height="1"/><rect x="619" y="114" width="1" height="1"/><rect x="622" y="114" width="1" height="1"/><rect x="625" y="114" width="1" height="1"/><rect x="628" y="114" width="1" height="1"/><rect x="631" y="114" width="1" height="1"/><rect x="634" y="114" width="1" height="1"/><rect x="637" y="114" width="1" height="1"/><rect x="640" y="114" width="1" height="1"/><rect x="643" y="114" width="1" height="1"/><rect x="646" y="114" width="1" height="1"/><rect x="649" y="114" width="1" height="1"/><rect x="652" y="114" width="1" height="1"/><rect x="655" y="114" width="1" height="1"/><rect x="658" y="114" width="1" height="1"/><rect x="661" y="114" width="1" height="1"/><rect x="664" y="114" width="1" height="1"/><rect x="667" y="114" width="1" height="1"/><rect x="670" y="114" width="1" height="1"/><rect x="673" y="114" width="1" height="1"/><rect x="676" y="114" width="1" height="1"/><rect x="679" y="114" width="1" height="1"/><rect x="682" y="114" width="1" height="1"/><rect x="685" y="114" width="1" height="1"/><rect x="688" y="114" width="1" height="1"/><rect x="691" y="114" width="1" height="1"/><rect x="694" y="114" width="1" height="1"/><rect x="697" y="114" width="1" height="1"/><rect x="700" y="114" width="1" height="1"/><rect x="703" y="114" width="1" height="1"/><rect x="706" y="114" width="1" height="1"/><rect x="709" y="114" width="1" height="1"/><rect x="712" y="114" width="1" height="1"/><rect x="715" y="114" width="1" height="1"/><rect x="718" y="114" width="1" height="1"/><rect x="721" y="114" width="1" height="1"/><rect x="724" y="114" width="1" height="1"/><rect x="727" y="114" width="1" height="1"/><rect x="730" y="114" width="1" height="1"/><rect x="733" y="114" width="1" height="1"/><rect x="736" y="114" width="1" height="1"/><rect x="739" y="114" width="1" height="1"/><rect x="742" y="114" width="1" height="1"/><rect x="745" y="114" width="1" height="1"/><rect x="748" y="114" width="1" height="1"/><rect x="751" y="114" width="1" height="1"/><rect x="754" y="114" width="1" height="1"/><rect x="757" y="114" width="1" height="1"/><rect x="760" y="114" width="1" height="1"/><rect x="763" y="114" width="1" height="1"/><rect x="766" y="114" width="1" height="1"/><rect x="769" y="114" width="1" height="1"/><rect x="772" y="114" width="1" height="1"/><rect x="775" y="114" width="1" height="1"/><rect x="778" y="114" width="1" height="1"/><rect x="781" y="114" width="1" height="1"/><rect x="784" y="114" width="1" height="1"/><rect x="787" y="114" width="1" height="1"/><rect x="790" y="114" width="1" height="1"/><rect x="793" y="114" width="1" height="1"/><rect x="796" y="114" width="1" height="1"/><rect x="799" y="114" width="1" height="1"/><rect x="802" y="114" width="1" height="1"/><rect x="805" y="114" width="1" height="1"/><rect x="808" y="114" width="1" height="1"/><rect x="811" y="114" width="1" height="1"/><rect x="814" y="114" width="1" height="1"/><rect x="817" y="114" width="1" height="1"/><rect x="820" y="114" width="1" height="1"/><rect x="823" y="114" width="1" height="1"/><rect x="826" y="114" width="1" height="1"/><rect x="829" y="114" width="1" height="1"/><rect x="832" y="114" width="1" height="1"/><rect x="835" y="114" width="1" height="1"/><rect x="838" y="114" width="1" height="1"/><rect x="841" y="114" width="1" height="1"/><rect x="844" y="114" width="1" height="1"/><rect x="847" y="114" width="1" height="1"/><rect x="850" y="114" width="1" height="1"/><rect x="853" y="114" width="1" height="1"/><rect x="856" y="114" width="1" height="1"/><rect x="859" y="114" width="1" height="1"/><rect x="862" y="114" width="1" height="1"/><rect x="865" y="114" width="1" height="1"/><rect x="868" y="114" width="1" height="1"/><rect x="871" y="114" width="1" height="1"/><rect x="874" y="114" width="1" height="1"/><rect x="877" y="114" width="1" height="1"/><rect x="880" y="114" width="1" height="1"/><rect x="883" y="114" width="1" height="1"/><rect x="886" y="114" width="1" height="1"/><rect x="889" y="114" width="1" height="1"/><rect x="892" y="114" width="1" height="1"/><rect x="895" y="114" width="1" height="1"/><rect x="898" y="114" width="1" height="1"/><rect x="901" y="114" width="1" height="1"/></g>
</g>
<path class="up" d="M905 106H963a2 2 0 0 1 2 2V135a2 2 0 0 1 -2 2H905Z"/>
<path class="vol" d="M905 493H956a2 2 0 0 1 2 2V507a2 2 0 0 1 -2 2H905Z"/>
<text x="9.6" y="18.8" textLength="42.4" lengthAdjust="spacing">Created</text>
<text x="56" y="18.8" textLength="23.7" lengthAdjust="spacing">with</text>
<text x="83.8" y="18.8" textLength="94" lengthAdjust="spacing">TradingView.com,</text>
<text x="181.8" y="18.8" textLength="20.5" lengthAdjust="spacing">Dec</text>
<text x="205.5" y="18.8" textLength="16.5" lengthAdjust="spacing">03,</text>
<text x="226.4" y="18.8" textLength="24.7" lengthAdjust="spacing">2025</text>
<text x="255.1" y="18.8" textLength="28.8" lengthAdjust="spacing">02:52</text>
<text x="288.1" y="18.8" textLength="21.6" lengthAdjust="spacing">UTC</text>
<text x="18" y="45.7" textLength="46" lengthAdjust="spacingAndGlyphs">VNINDEX</text>
<text x="67.39999999999999" y="45.9" font-weight="bold" style="font-size:14px">·</text>
<text x="76" y="45.7" textLength="13.5" lengthAdjust="spacingAndGlyphs">1D</text>
<text x="93.1" y="45.9" font-weight="bold" style="font-size:14px">·</text>
<text x="100.3" y="45.7" textLength="28.5" lengthAdjust="spacingAndGlyphs">HOSE</text>
<text x="136.4" y="45.7" textLength="8" lengthAdjust="spacingAndGlyphs">O</text>
<text x="144.8" y="45.7" class="up" textLength="46.5" lengthAdjust="spacing">1,717.06</text>
<text x="198.2" y="45.7">H</text>
<text x="206.4" y="45.7" class="up" textLength="46.5" lengthAdjust="spacing">1,726.65</text>
<text x="259.6" y="45.7">L</text>
<text x="266.6" y="45.7" class="up" textLength="46.5" lengthAdjust="spacing">1,715.48</text>
<text x="319.5" y="45.7" textLength="7.6" lengthAdjust="spacingAndGlyphs">C</text>
<text x="327.3" y="45.7" class="up" textLength="46.5" lengthAdjust="spacing">1,722.75</text>
<text x="380.8" y="45.7" class="up" textLength="78.6" lengthAdjust="spacing">+5.69 (+0.33%)</text>
<text x="18.2" y="62.9" textLength="15.8" lengthAdjust="spacing">Vol</text>
<text class="vol" y="62.9"><tspan x="41.2" textLength="30.2" lengthAdjust="spacing">84.95</tspan><tspan x="72.3">M</tspan></text>
<text x="912.7" y="76" textLength="47" lengthAdjust="spacing">1,800.00</text>
<text x="912.7" y="185" textLength="47" lengthAdjust="spacing">1,600.00</text>
<text x="912.7" y="240" textLength="47" lengthAdjust="spacing">1,500.00</text>
<text x="912.7" y="294" textLength="47" lengthAdjust="spacing">1,400.00</text>
<text x="912.7" y="349" textLength="47" lengthAdjust="spacing">1,300.00</text>
<text x="912.7" y="404" textLength="47" lengthAdjust="spacing">1,200.00</text>
<text x="912.7" y="459" textLength="47" lengthAdjust="spacing">1,100.00</text>
<text x="912.4" y="117.8" class="w" textLength="47" lengthAdjust="spacing">1,722.75</text>
<text x="912.4" y="131.8" class="w" textLength="47" lengthAdjust="spacing" fill-opacity="0.72">05:22:14</text>
<text class="w" y="505.5"><tspan x="912.6" textLength="28.8" lengthAdjust="spacing">84.95</tspan><tspan x="943.8" textLength="9.8" lengthAdjust="spacingAndGlyphs">M</tspan></text>
<clipPath id="tc"><rect x="10" y="509" width="959" height="27"/></clipPath>
<g clip-path="url(#tc)">
<text x="12.5" y="526.7" text-anchor="middle" font-weight="bold">2025</text>
<text x="75.5" y="526.7" text-anchor="middle">Feb</text>
<text x="150.5" y="526.7" text-anchor="middle">Mar</text>
<text x="229.5" y="526.7" text-anchor="middle">Apr</text>
<text x="304.5" y="526.7" text-anchor="middle">May</text>
<text x="378.5" y="526.7" text-anchor="middle">Jun</text>
<text x="457.5" y="526.7" text-anchor="middle">Jul</text>
<text x="543.5" y="526.7" text-anchor="middle">Aug</text>
<text x="622.5" y="526.7" text-anchor="middle">Sep</text>
<text x="696.5" y="526.7" text-anchor="middle">Oct</text>
<text x="782.5" y="526.7" text-anchor="middle">Nov</text>
<text x="857.5" y="526.7" text-anchor="middle">Dec</text>
</g>
<g transform="translate(12 555.42) scale(0.845)" fill="#101010"><path d="M14 22H7V11H0V4h14v18zM28 22h-8l7.5-18h8L28 22z"/><circle cx="20" cy="8" r="4"/></g>
<text x="48.2" y="574" textLength="121.3" lengthAdjust="spacing" font-weight="bold" style="font-size:20px">TradingView</text>
</svg>
</body></html>
